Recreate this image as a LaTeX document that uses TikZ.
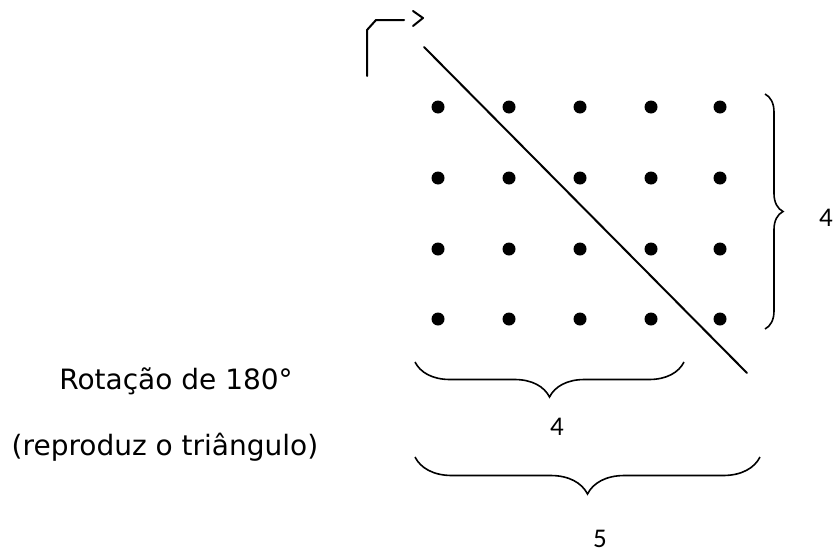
\documentclass[tikz,border=0pt]{standalone}
\usepackage{fontspec}
\setmainfont{DejaVu Sans}
\newfontfamily\digitfont{Carlito}
\usetikzlibrary{decorations.pathreplacing}
\begin{document}
\begin{tikzpicture}[x=1pt,y=-1pt,
  dotnode/.style={circle,fill=black,inner sep=0pt,minimum size=13pt},
  stroke/.style={line width=2pt,line cap=round,line join=round},
  bracestyle/.style={line width=1.6pt,decorate,decoration={brace,amplitude=#1}},
  lbl/.style={font=\fontsize{28}{32}\selectfont,inner sep=0pt},
  numlbl/.style={font=\digitfont\fontsize{27}{30}\selectfont,inner sep=0pt}]
\useasboundingbox (0,0) rectangle (835,557);
% dots
\foreach \x [count=\i] in {438,509,580,651,720}
  \foreach \y [count=\j] in {107,178,249,319}
    \node[dotnode] (d-\i-\j) at (\x,\y) {};
% diagonal line
\coordinate (ls) at (424,47);
\coordinate (le) at (747,373);
\draw[stroke] (ls) -- (le);
% hook mark at top left
\coordinate (h1) at (367,76);
\coordinate (h2) at (367,30);
\coordinate (h3) at (404,20);
\draw[stroke] (h1) -- (h2) -- (376,20) -- (h3);
\coordinate (c1) at (413,11);
\coordinate (c2) at (423,18);
\coordinate (c3) at (413,26);
\draw[stroke] (c1) -- (c2) -- (c3);
% right brace
\coordinate (rb1) at (765,94);
\coordinate (rb2) at (765,329);
\draw[bracestyle=18pt] (rb1) -- (rb2);
\node[numlbl] (r4) at (826,218) {4};
% bottom brace 1
\coordinate (bb1) at (684,362);
\coordinate (bb2) at (415,362);
\draw[bracestyle=35pt] (bb1) -- (bb2);
\node[numlbl] (b4) at (557,427) {4};
% bottom brace 2
\coordinate (bc1) at (760,457);
\coordinate (bc2) at (415,457);
\draw[bracestyle=37pt] (bc1) -- (bc2);
\node[numlbl] (b5) at (600,539) {5};
% left text
\node[lbl] (t1) at (176,381) {Rotação de 180°};
\node[lbl] (t2) at (165,447) {(reproduz o triângulo)};
\end{tikzpicture}
\end{document}
